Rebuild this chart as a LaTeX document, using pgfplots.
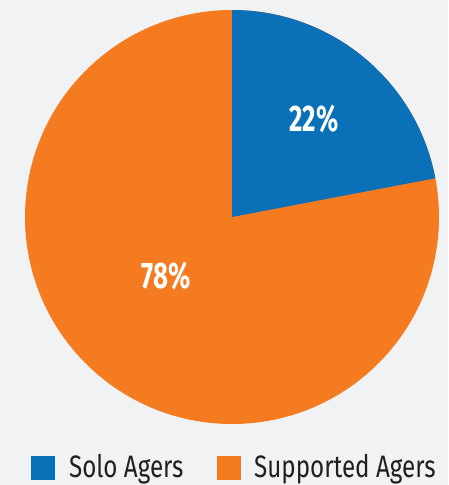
\documentclass[border=0pt]{standalone}
\usepackage{pgfplots}
\usepackage{pgfplotstable}
\pgfplotsset{compat=1.18}
\usepackage{fontspec}
\setmainfont{Fira Sans}[FakeStretch=0.78]
\definecolor{bgc}{HTML}{F1F2F4}
\definecolor{solo}{HTML}{0A70B8}
\definecolor{supp}{HTML}{F47B20}
\definecolor{txt}{HTML}{231F20}
\pgfplotstableread{
label value
Solo 22
Supported 78
}\piedata
\begin{document}
\begin{tikzpicture}[x=1pt,y=1pt]
\pgfplotstablegetelem{0}{value}\of\piedata
\pgfmathtruncatemacro{\va}{\pgfplotsretval}
\pgfplotstablegetelem{1}{value}\of\piedata
\pgfmathtruncatemacro{\vb}{\pgfplotsretval}
\pgfmathsetmacro{\aend}{90-3.6*\va}
\fill[bgc] (0,0) rectangle (448,485);
\begin{axis}[
  at={(0,0)}, anchor=south west,
  scale only axis, width=448pt, height=485pt,
  xmin=0, xmax=448, ymin=0, ymax=485,
  hide axis, clip=false,
]
\fill[supp] (axis cs:232,268) circle[radius=207];
\fill[solo] (axis cs:232,268) -- ++(90:207) arc[start angle=90, end angle=\aend, radius=207] -- cycle;
\node[white, font=\bfseries\fontsize{37}{37}\selectfont\addfontfeature{FakeStretch=0.7}] at (axis cs:314,366) {\va\%};
\node[white, font=\bfseries\fontsize{37}{37}\selectfont\addfontfeature{FakeStretch=0.7}] at (axis cs:166,209) {\vb\%};
% legend
\fill[solo] (axis cs:31,5) rectangle (axis cs:55,29);
\node[anchor=base west, inner sep=0pt, txt, font=\fontsize{31}{31}\selectfont] at (axis cs:69,8) {Solo Agers};
\fill[supp] (axis cs:217,5) rectangle (axis cs:241,29);
\node[anchor=base west, inner sep=0pt, txt, font=\fontsize{31}{31}\selectfont] at (axis cs:254,8) {Supported Agers};
\end{axis}
\end{tikzpicture}
\end{document}
